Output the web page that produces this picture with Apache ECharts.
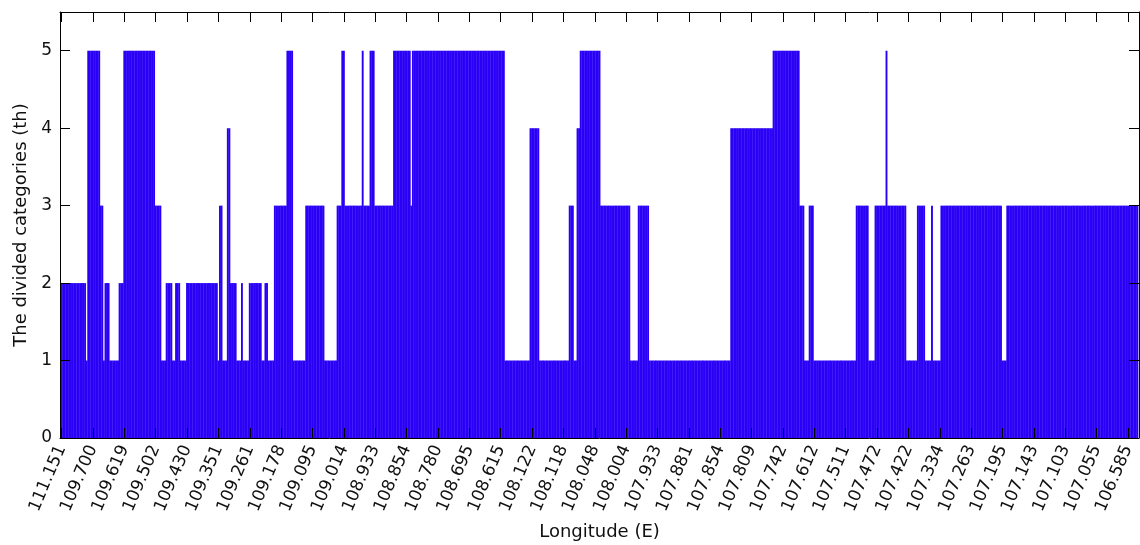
<!DOCTYPE html>
<html>
<head>
<meta charset="utf-8">
<script src="https://cdn.jsdelivr.net/npm/echarts@6/dist/echarts.min.js"></script>
<style>
html,body{margin:0;padding:0;background:#fff;}
#chart{width:1140px;height:545px;}
</style>
</head>
<body>
<div id="chart"></div>
<script>
// Tick labels shown every 20th bar (bars 1, 21, 41, ...)
var tickLabels = ['111.151','109.700','109.619','109.502','109.430','109.351','109.261','109.178','109.095','109.014',
  '108.933','108.854','108.780','108.695','108.615','108.122','108.118','108.048','108.004','107.933',
  '107.881','107.854','107.809','107.742','107.612','107.511','107.472','107.422','107.334','107.263',
  '107.195','107.143','107.103','107.055','106.585'];

// Divided category of each bar (687 bars), 20 per row
var categoryValues = [
  2,2,2,2,2,2,2,2,2,2,2,2,2,2,2,2,1,5,5,5,
  5,5,5,5,5,3,3,1,2,2,2,1,1,1,1,1,1,2,2,2,
  5,5,5,5,5,5,5,5,5,5,5,5,5,5,5,5,5,5,5,5,
  3,3,3,3,1,1,1,2,2,2,2,1,1,2,2,2,1,1,1,1,
  2,2,2,2,2,2,2,2,2,2,2,2,2,2,2,2,2,2,2,2,
  1,3,3,1,1,1,4,4,2,2,2,2,1,1,1,2,1,1,1,1,
  2,2,2,2,2,2,2,2,1,1,2,2,1,1,1,1,3,3,3,3,
  3,3,3,3,5,5,5,5,1,1,1,1,1,1,1,1,3,3,3,3,
  3,3,3,3,3,3,3,3,1,1,1,1,1,1,1,1,3,3,3,5,
  5,3,3,3,3,3,3,3,3,3,3,3,5,3,3,3,3,5,5,5,
  3,3,3,3,3,3,3,3,3,3,3,3,5,5,5,5,5,5,5,5,
  5,5,5,3,5,5,5,5,5,5,5,5,5,5,5,5,5,5,5,5,
  5,5,5,5,5,5,5,5,5,5,5,5,5,5,5,5,5,5,5,5,
  5,5,5,5,5,5,5,5,5,5,5,5,5,5,5,5,5,5,5,5,
  5,5,5,1,1,1,1,1,1,1,1,1,1,1,1,1,1,1,1,4,
  4,4,4,4,4,1,1,1,1,1,1,1,1,1,1,1,1,1,1,1,
  1,1,1,1,3,3,3,1,1,4,4,5,5,5,5,5,5,5,5,5,
  5,5,5,5,3,3,3,3,3,3,3,3,3,3,3,3,3,3,3,3,
  3,3,3,1,1,1,1,1,3,3,3,3,3,3,3,1,1,1,1,1,
  1,1,1,1,1,1,1,1,1,1,1,1,1,1,1,1,1,1,1,1,
  1,1,1,1,1,1,1,1,1,1,1,1,1,1,1,1,1,1,1,1,
  1,1,1,1,1,1,1,4,4,4,4,4,4,4,4,4,4,4,4,4,
  4,4,4,4,4,4,4,4,4,4,4,4,4,4,5,5,5,5,5,5,
  5,5,5,5,5,5,5,5,5,5,5,3,3,3,1,1,1,3,3,3,
  1,1,1,1,1,1,1,1,1,1,1,1,1,1,1,1,1,1,1,1,
  1,1,1,1,1,1,1,3,3,3,3,3,3,3,3,1,1,1,1,3,
  3,3,3,3,3,3,5,3,3,3,3,3,3,3,3,3,3,3,3,1,
  1,1,1,1,1,1,3,3,3,3,3,1,1,1,1,3,1,1,1,1,
  1,3,3,3,3,3,3,3,3,3,3,3,3,3,3,3,3,3,3,3,
  3,3,3,3,3,3,3,3,3,3,3,3,3,3,3,3,3,3,3,3,
  1,1,1,3,3,3,3,3,3,3,3,3,3,3,3,3,3,3,3,3,
  3,3,3,3,3,3,3,3,3,3,3,3,3,3,3,3,3,3,3,3,
  3,3,3,3,3,3,3,3,3,3,3,3,3,3,3,3,3,3,3,3,
  3,3,3,3,3,3,3,3,3,3,3,3,3,3,3,3,3,3,3,3,
  3,3,3,3,3,3,3
];

var yTickValues = [0, 1, 2, 3, 4, 5];

var xTickPositions = tickLabels.map(function (t, i) { return 1 + i * 20; });
var barData = categoryValues.map(function (v, i) { return [i + 1, v]; });
var nBars = categoryValues.length;

var font = 'DejaVu Sans';
var txt = '#111';

var chart = echarts.init(document.getElementById('chart'), null, {renderer: 'canvas'});
chart.setOption({
  animation: false,
  backgroundColor: '#fff',
  grid: {left: 60, right: 1, top: 12, bottom: 107, containLabel: false, outerBoundsMode: 'none'},
  xAxis: [{
    type: 'value', min: 0, max: nBars + 1, position: 'bottom', z: 5,
    name: 'Longitude (E)', nameLocation: 'middle', nameGap: 85,
    nameTextStyle: {fontFamily: font, fontSize: 18, color: txt},
    axisLine: {show: true, onZero: false, lineStyle: {color: '#000', width: 1}},
    axisTick: {show: true, inside: true, length: 10, customValues: xTickPositions, lineStyle: {color: '#000'}},
    axisLabel: {show: true, rotate: 67, margin: 8, fontFamily: font, fontSize: 17, color: txt,
      customValues: xTickPositions,
      formatter: function (v) { var k = Math.round((v - 1) / 20); return tickLabels[k] || ''; }},
    splitLine: {show: false}
  }, {
    type: 'value', min: 0, max: nBars + 1, position: 'top', z: 5,
    axisLine: {show: true, onZero: false, lineStyle: {color: '#000', width: 1}},
    axisTick: {show: true, inside: true, length: 10, customValues: xTickPositions, lineStyle: {color: '#000'}},
    axisLabel: {show: false},
    splitLine: {show: false}
  }],
  yAxis: [{
    type: 'value', min: 0, max: 5.5, position: 'left', z: 5,
    name: 'The divided categories (th)', nameLocation: 'middle', nameGap: 30, nameRotate: 90,
    nameTextStyle: {fontFamily: font, fontSize: 18, color: txt},
    axisLine: {show: true, onZero: false, lineStyle: {color: '#000', width: 1}},
    axisTick: {show: true, inside: true, length: 10, customValues: yTickValues, lineStyle: {color: '#000'}},
    axisLabel: {show: true, margin: 8, fontFamily: font, fontSize: 17, color: txt, customValues: yTickValues},
    splitLine: {show: false}
  }, {
    type: 'value', min: 0, max: 5.5, position: 'right', z: 5,
    axisLine: {show: true, onZero: false, lineStyle: {color: '#000', width: 1}},
    axisTick: {show: true, inside: true, length: 10, customValues: yTickValues, lineStyle: {color: '#000'}},
    axisLabel: {show: false},
    splitLine: {show: false}
  }],
  series: [{
    type: 'bar',
    xAxisIndex: 0, yAxisIndex: 0,
    data: barData,
    barWidth: 1.9,
    itemStyle: {color: '#2a00f6'},
    z: 1
  }]
});
</script>
</body>
</html>
